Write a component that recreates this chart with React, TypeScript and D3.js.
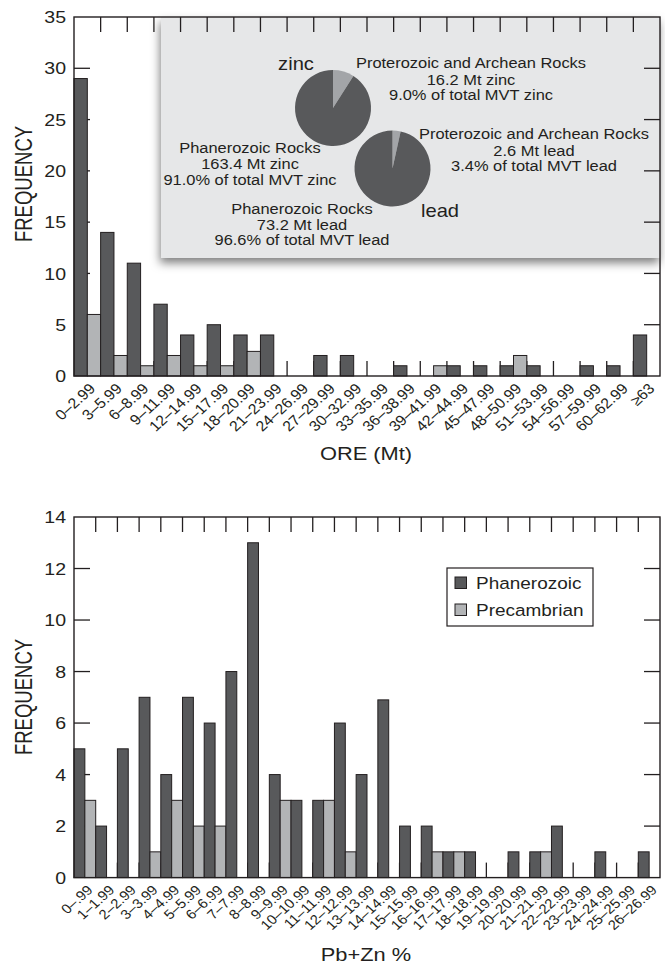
import React from "react";
import * as d3 from "d3";

// ---------- data ----------
const oreCategories = [
  "0–2.99", "3–5.99", "6–8.99", "9–11.99", "12–14.99", "15–17.99", "18–20.99",
  "21–23.99", "24–26.99", "27–29.99", "30–32.99", "33–35.99", "36–38.99",
  "39–41.99", "42–44.99", "45–47.99", "48–50.99", "51–53.99", "54–56.99",
  "57–59.99", "60–62.99", "≥63",
];
const orePhanerozoic = [29, 14, 11, 7, 4, 5, 4, 4, 0, 2, 2, 0, 1, 0, 1, 1, 1, 1, 0, 1, 1, 4];
const orePrecambrian = [6, 2, 1, 2, 1, 1, 2.4, 0, 0, 0, 0, 0, 0, 1, 0, 0, 2, 0, 0, 0, 0, 0];
const oreYTicks = [0, 5, 10, 15, 20, 25, 30, 35];

const gradeCategories = [
  "0–.99", "1–1.99", "2–2.99", "3–3.99", "4–4.99", "5–5.99", "6–6.99", "7–7.99",
  "8–8.99", "9–9.99", "10–10.99", "11–11.99", "12–12.99", "13–13.99", "14–14.99",
  "15–15.99", "16–16.99", "17–17.99", "18–18.99", "19–19.99", "20–20.99",
  "21–21.99", "22–22.99", "23–23.99", "24–24.99", "25–25.99", "26–26.99",
];
const gradePhanerozoic = [5, 2, 5, 7, 4, 7, 6, 8, 13, 4, 3, 3, 6, 4, 6.9, 2, 2, 1, 1, 0, 1, 1, 2, 0, 1, 0, 1];
const gradePrecambrian = [3, 0, 0, 1, 3, 2, 2, 0, 0, 3, 0, 3, 1, 0, 0, 0, 1, 1, 0, 0, 0, 1, 0, 0, 0, 0, 0];
const gradeYTicks = [0, 2, 4, 6, 8, 10, 12, 14];

const seriesNames = ["Phanerozoic", "Precambrian"];

const zincShares = [16.2, 163.4]; // Proterozoic+Archean, Phanerozoic (Mt zinc)
const leadShares = [2.6, 73.2]; // Proterozoic+Archean, Phanerozoic (Mt lead)

// ---------- styles ----------
const FONT = "'Liberation Sans', Arial, Helvetica, sans-serif";
const SX = 1.15;
const DARK = "#58595b";
const LIGHT = "#b2b4b6";
const INK = "#231f20";
const PIE_DARK = "#58595b";
const PIE_LIGHT = "#a3a5a8";

type TProps = {
  x: number; y: number; size: number; anchor?: string; rot?: number; dy?: string;
  children: React.ReactNode; sx?: number;
};
function T({ x, y, size, anchor = "middle", rot, dy, children, sx = SX }: TProps) {
  return (
    <text
      transform={`translate(${x},${y}) scale(${sx},1)${rot !== undefined ? ` rotate(${rot})` : ""}`}
      textAnchor={anchor}
      fontSize={size}
      dy={dy}
      fontFamily={FONT}
      fill={INK}
    >
      {children}
    </text>
  );
}

type PanelProps = {
  cats: string[]; phan: number[]; pre: number[]; yTicks: number[];
  left: number; right: number; top: number; bottom: number;
  title: string; titleY: number; yTitleY: number; labelSize: number;
};

function Panel({ cats, phan, pre, yTicks, left, right, top, bottom, title, titleY, yTitleY, labelSize }: PanelProps) {
  const x = d3.scaleBand<string>().domain(cats).range([left, right]).padding(0);
  const xs = d3.scaleBand<string>().domain(seriesNames).range([0, x.bandwidth()]).padding(0);
  const y = d3.scaleLinear().domain([0, yTicks[yTicks.length - 1]]).range([bottom, top]);
  const tickLen = 15;
  const boundaries = cats.slice(1).map((c) => x(c)!);
  const rows = cats.map((c, i) => ({ c, vals: [phan[i], pre[i]] }));
  return (
    <g>
      {yTicks.slice(1, -1).map((t) => (
        <g key={"yt" + t}>
          <line x1={left} x2={left + tickLen + 1} y1={y(t)} y2={y(t)} stroke={INK} strokeWidth={1.3} />
          <line x1={right - tickLen - 1} x2={right} y1={y(t)} y2={y(t)} stroke={INK} strokeWidth={1.3} />
        </g>
      ))}
      {boundaries.map((b, i) => (
        <g key={"xt" + i}>
          <line x1={b} x2={b} y1={top} y2={top + tickLen} stroke={INK} strokeWidth={1.3} />
          <line x1={b} x2={b} y1={bottom} y2={bottom - tickLen} stroke={INK} strokeWidth={1.3} />
        </g>
      ))}
      {rows.map((r) =>
        r.vals.map((v, j) =>
          v > 0 ? (
            <rect
              key={r.c + j}
              x={x(r.c)! + xs(seriesNames[j])!}
              y={y(v)}
              width={xs.bandwidth()}
              height={bottom - y(v)}
              fill={j === 0 ? DARK : LIGHT}
              stroke={INK}
              strokeWidth={1}
            />
          ) : null
        )
      )}
      <rect x={left} y={top} width={right - left} height={bottom - top} fill="none" stroke={INK} strokeWidth={1.4} />
      {yTicks.map((t) => (
        <T key={"yl" + t} x={left - 8} y={y(t)} size={17} anchor="end" dy="0.36em">{t}</T>
      ))}
      {cats.map((c) => (
        <T key={"xl" + c} x={x(c)! + x.bandwidth() / 2 + 5} y={bottom + 10} size={labelSize} anchor="end" rot={-45} dy="0.35em" sx={1.1}>
          {c}
        </T>
      ))}
      <T x={366} y={titleY} size={19}>{title}</T>
      <T x={24} y={yTitleY} size={18.5} rot={-90} dy="0.36em" sx={1.25}>FREQUENCY</T>
    </g>
  );
}

function Pie({ cx, cy, r, values }: { cx: number; cy: number; r: number; values: number[] }) {
  const arcs = d3.pie<number>().sort(null).value((d) => d)(values);
  const arc = d3.arc<d3.PieArcDatum<number>>().innerRadius(0).outerRadius(r);
  return (
    <g transform={`translate(${cx},${cy})`}>
      {arcs.map((a, i) => (
        <path key={i} d={arc(a)!} fill={i === 0 ? PIE_LIGHT : PIE_DARK} />
      ))}
    </g>
  );
}

function Inset() {
  const bx = 161, by = 17, bw = 499, bh = 241;
  return (
    <g>
      <defs>
        <filter id="shadow" x="-10%" y="-10%" width="120%" height="130%">
          <feDropShadow dx={-1} dy={5} stdDeviation={5} floodColor="#000" floodOpacity={0.5} />
        </filter>
      </defs>
      <rect x={bx} y={by} width={bw} height={bh} fill="#e6e7e8" filter="url(#shadow)" />
      <Pie cx={333} cy={108} r={38} values={zincShares} />
      <Pie cx={392.5} cy={168.5} r={38} values={leadShares} />
      <T x={296} y={70} size={17.5}>zinc</T>
      <T x={440} y={217} size={17.5}>lead</T>
      <T x={471} y={68} size={14.3}>Proterozoic and Archean Rocks</T>
      <T x={471} y={85} size={14.3}>{`${zincShares[0]} Mt zinc`}</T>
      <T x={471} y={100} size={14.3}>9.0% of total MVT zinc</T>
      <T x={534} y={139} size={14.3}>Proterozoic and Archean Rocks</T>
      <T x={534} y={156} size={14.3}>{`${leadShares[0]} Mt lead`}</T>
      <T x={534} y={171} size={14.3}>3.4% of total MVT lead</T>
      <T x={250} y={153} size={14.3}>Phanerozoic Rocks</T>
      <T x={250} y={169} size={14.3}>{`${zincShares[1]} Mt zinc`}</T>
      <T x={250} y={185} size={14.3}>91.0% of total MVT zinc</T>
      <T x={302} y={214} size={14.3}>Phanerozoic Rocks</T>
      <T x={302} y={230} size={14.3}>{`${leadShares[1]} Mt lead`}</T>
      <T x={302} y={245} size={14.3}>96.6% of total MVT lead</T>
    </g>
  );
}

function Legend() {
  const x0 = 447, y0 = 568, w = 146, h = 58;
  return (
    <g>
      <rect x={x0} y={y0} width={w} height={h} fill="#fff" stroke={INK} strokeWidth={1.2} />
      {seriesNames.map((s, i) => (
        <g key={s}>
          <rect x={x0 + 8} y={y0 + 9 + i * 27} width={11.5} height={11.5} fill={i === 0 ? DARK : LIGHT} stroke={INK} strokeWidth={1} />
          <T x={x0 + 29} y={y0 + 15 + i * 27} size={16.5} anchor="start" dy="0.36em">{s}</T>
        </g>
      ))}
    </g>
  );
}

export default function App() {
  return (
    <svg width={665} height={966} style={{ position: "absolute", left: 0, top: 0, display: "block", background: "#fff" }}>
      <Inset />
      <Panel
        cats={oreCategories} phan={orePhanerozoic} pre={orePrecambrian} yTicks={oreYTicks}
        left={74} right={660} top={17} bottom={376}
        title="ORE (Mt)" titleY={460} yTitleY={184} labelSize={14.5}
      />
      <Panel
        cats={gradeCategories} phan={gradePhanerozoic} pre={gradePrecambrian} yTicks={gradeYTicks}
        left={74} right={660} top={517} bottom={877.6}
        title="Pb+Zn %" titleY={961} yTitleY={697} labelSize={13.5}
      />
      <Legend />
    </svg>
  );
}
